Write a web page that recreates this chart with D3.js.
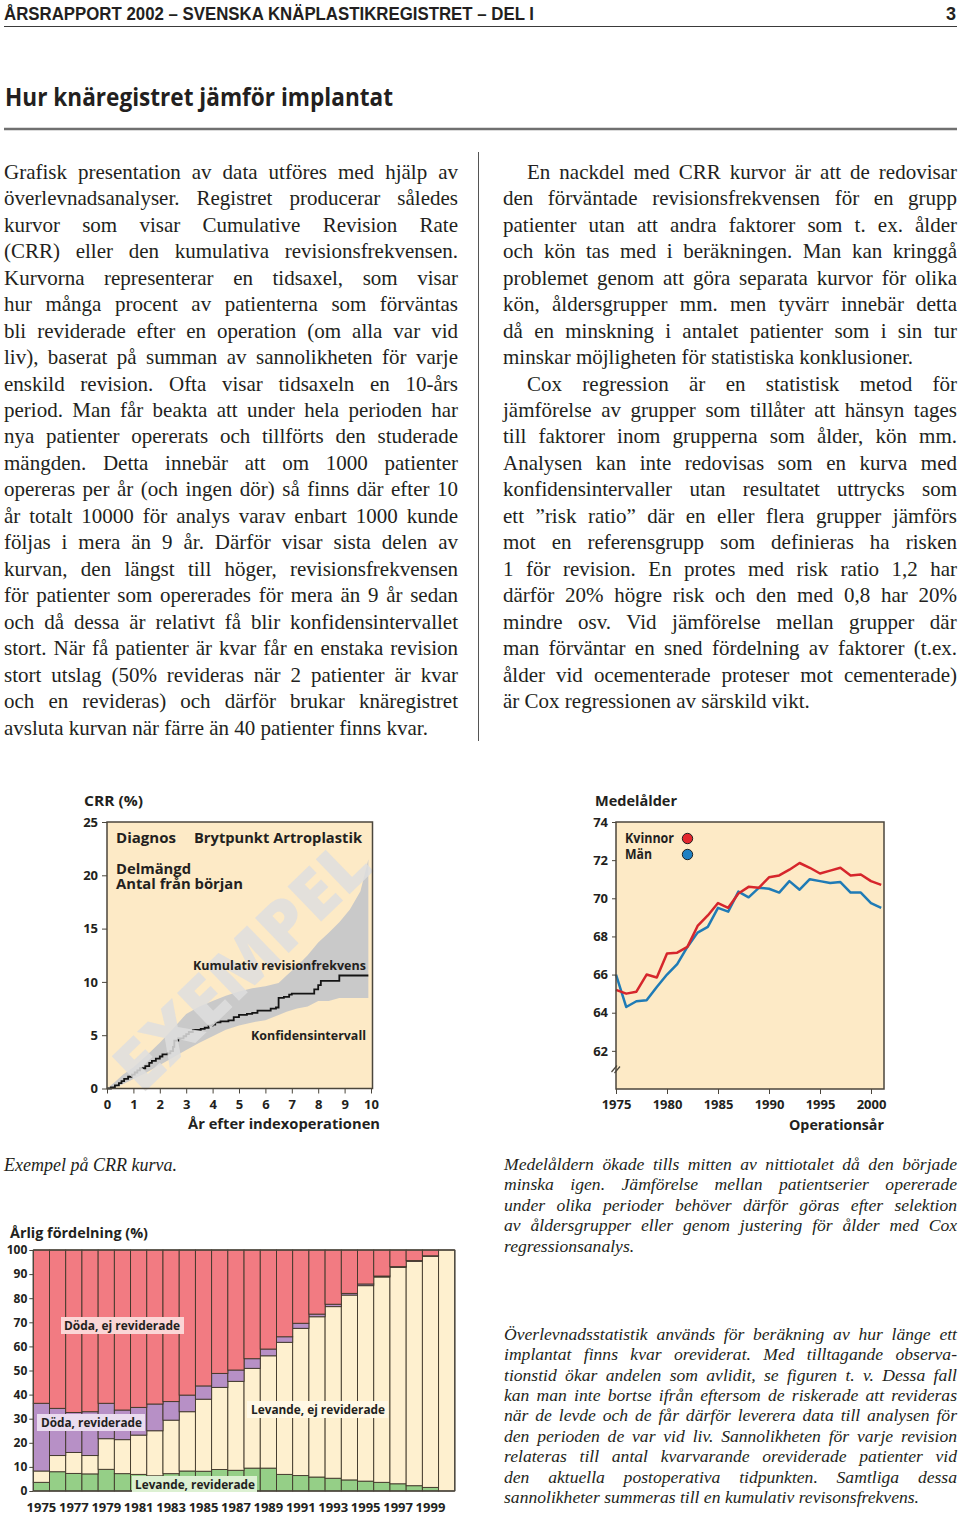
<!DOCTYPE html>
<html><head><meta charset="utf-8">
<script src="https://cdnjs.cloudflare.com/ajax/libs/d3/7.8.5/d3.min.js"></script>
<style>
html,body{margin:0;padding:0;background:#fff;}
#page{position:relative;width:960px;height:1516px;overflow:hidden;background:#fff;}
#svg{position:absolute;left:0;top:0;}
.ln{position:absolute;white-space:nowrap;font-family:"Liberation Serif","Times New Roman",serif;color:#231f20;}
</style>
</head><body><div id="page"><svg id="svg" width="960" height="1516"></svg></div>
<script>
// ---------------- DATA ----------------
// CRR example curve (years after index operation, CRR %)
const crrT = [0,0.15,0.3,0.45,0.55,0.65,0.8,0.95,1.05,1.15,1.25,1.45,1.6,1.7,1.85,2.0,2.1,2.3,2.4,2.5,2.55,2.7,2.9,3.0,3.1,3.25,3.55,3.7,3.85,4.0,4.1,4.3,4.6,4.8,5.0,5.3,5.5,5.7,6.0,6.2,6.4,6.5,6.7,6.9,7.0,7.75,7.85,8.0,8.1,8.75,8.8,9.9];
const crrV = [0,0.1,0.3,0.5,0.7,0.9,1.1,1.3,1.5,1.7,1.9,2.1,2.4,2.6,2.8,3.0,3.2,3.3,3.5,3.9,4.5,4.7,4.9,5.1,5.3,5.5,5.6,5.7,5.9,6.0,6.2,6.3,6.4,6.7,6.9,7.0,7.1,7.3,7.3,7.5,7.6,8.5,8.6,8.8,8.9,8.9,9.3,9.7,10.1,10.1,10.6,10.6];
const ciT  = [0,0.3,0.6,1,1.5,2,2.5,3,3.5,4,4.5,5,5.5,6,6.5,6.8,7.2,7.6,8,8.4,8.8,9.2,9.6,9.9];
const ciUp = [0,0.6,1.3,2.0,3.1,4.3,5.6,7.0,7.7,8.2,8.7,9.1,9.4,9.6,9.9,10.6,11.5,12.5,13.7,14.6,15.6,16.8,18.5,21.5];
const ciLo = [0,0.1,0.4,0.9,1.5,2.2,2.9,3.6,4.3,4.9,5.5,5.9,6.2,6.4,6.9,7.2,7.5,7.7,8.2,8.2,8.5,8.5,8.5,8.5];
const crrYTicks = [0,5,10,15,20,25];
const crrXTicks = [0,1,2,3,4,5,6,7,8,9,10];

// Medelålder
const maYears  = [1975,1976,1977,1978,1979,1980,1981,1982,1983,1984,1985,1986,1987,1988,1989,1990,1991,1992,1993,1994,1995,1996,1997,1998,1999,2000,2001];
const kvinnor  = [65.2,65.0,65.1,66.0,65.85,67.1,67.15,67.45,68.55,69.1,69.75,69.5,70.25,70.6,70.55,71.1,71.2,71.5,71.85,71.6,71.3,71.45,71.6,71.2,71.25,70.9,70.7];
const man      = [66.0,64.3,64.6,64.65,65.35,66.0,66.55,67.45,68.2,68.5,69.5,69.3,70.35,70.05,70.55,70.5,70.3,70.9,70.45,71.0,70.9,70.8,70.85,70.3,70.3,69.75,69.5];
const maYTicks = [62,64,66,68,70,72,74];
const maXTicks = [1975,1980,1985,1990,1995,2000];

// Årlig fördelning (%)
const afYears  = [1975,1976,1977,1978,1979,1980,1981,1982,1983,1984,1985,1986,1987,1988,1989,1990,1991,1992,1993,1994,1995,1996,1997,1998,1999,2000];
const levandeRev   = [3.6,8.0,7.3,7.1,9.0,7.2,6.9,6.3,7.2,8.3,8.2,8.9,8.6,9.5,9.5,6.9,6.4,5.8,5.3,4.6,4.1,3.6,3.0,2.2,1.5,0];
const levandeEjRev = [4.7,6.7,8.7,7.6,12.7,14.1,16.3,18.7,22.2,24.6,29.9,34.1,36.9,41.4,46.6,54.8,61.1,66.5,71.2,76.7,81.1,85.2,89.8,93.1,95.9,100];
const dodaRev      = [28.1,19.6,16.6,18.2,14.7,12.3,11.5,11.1,7.7,6.9,5.5,5.8,4.7,4.0,2.8,2.3,2.1,1.1,1.0,0.7,0.7,0.4,0.3,0.3,0.2,0];
const dodaEjRev    = [63.6,65.7,67.4,67.1,63.6,66.4,65.3,63.9,62.9,60.2,56.4,51.2,49.8,45.1,41.1,36.0,30.4,26.6,22.5,18.0,14.1,10.8,6.9,4.4,2.4,0];
const afYTicks = [0,10,20,30,40,50,60,70,80,90,100];
const afXLabels = [1975,1977,1979,1981,1983,1985,1987,1989,1991,1993,1995,1997,1999];

// ---------------- TEXTS ----------------
const headerText = "ÅRSRAPPORT 2002 – SVENSKA KNÄPLASTIKREGISTRET – DEL I";
const titleText = "Hur knäregistret jämför implantat";
const leftLines = [
"Grafisk presentation av data utföres med hjälp av",
"överlevnadsanalyser. Registret producerar således",
"kurvor som visar Cumulative Revision Rate",
"(CRR) eller den kumulativa revisionsfrekvensen.",
"Kurvorna representerar en tidsaxel, som visar",
"hur många procent av patienterna som förväntas",
"bli reviderade efter en operation (om alla var vid",
"liv), baserat på summan av sannolikheten för varje",
"enskild revision. Ofta visar tidsaxeln en 10-års",
"period. Man får beakta att under hela perioden har",
"nya patienter opererats och tillförts den studerade",
"mängden. Detta innebär att om 1000 patienter",
"opereras per år (och ingen dör) så finns där efter 10",
"år totalt 10000 för analys varav enbart 1000 kunde",
"följas i mera än 9 år. Därför visar sista delen av",
"kurvan, den längst till höger, revisionsfrekvensen",
"för patienter som opererades för mera än 9 år sedan",
"och då dessa är relativt få blir konfidensintervallet",
"stort. När få patienter är kvar får en enstaka revision",
"stort utslag (50% revideras när 2 patienter är kvar",
"och en revideras) och därför brukar knäregistret",
"avsluta kurvan när färre än 40 patienter finns kvar."];
const rightLines = [
"En nackdel med CRR kurvor är att de redovisar",
"den förväntade revisionsfrekvensen för en grupp",
"patienter utan att andra faktorer som t. ex. ålder",
"och kön tas med i beräkningen. Man kan kringgå",
"problemet genom att göra separata kurvor för olika",
"kön, åldersgrupper mm. men tyvärr innebär detta",
"då en minskning i antalet patienter som i sin tur",
"minskar möjligheten för statistiska konklusioner.",
"Cox regression är en statistisk metod för",
"jämförelse av grupper som tillåter att hänsyn tages",
"till faktorer inom grupperna som ålder, kön mm.",
"Analysen kan inte redovisas som en kurva med",
"konfidensintervaller utan resultatet uttrycks som",
"ett ”risk ratio” där en eller flera grupper jämförs",
"mot en referensgrupp som definieras ha risken",
"1 för revision. En protes med risk ratio 1,2 har",
"därför 20% högre risk och den med 0,8 har 20%",
"mindre osv. Vid jämförelse mellan grupper där",
"man förväntar en sned fördelning av faktorer (t.ex.",
"ålder vid ocementerade proteser mot cementerade)",
"är Cox regressionen av särskild vikt."];
const capMid = [
"Medelåldern ökade tills mitten av nittiotalet då den började",
"minska igen. Jämförelse mellan patientserier opererade",
"under olika perioder behöver därför göras efter selektion",
"av åldersgrupper eller genom justering för ålder med Cox",
"regressionsanalys."];
const capBottom = [
"Överlevnadsstatistik används för beräkning av hur länge ett",
"implantat finns kvar oreviderat. Med tilltagande observa-",
"tionstid ökar andelen som avlidit, se figuren t. v. Dessa fall",
"kan man inte bortse ifrån eftersom de riskerade att revideras",
"när de levde och de får därför leverera data till analysen för",
"den perioden de var vid liv. Sannolikheten för varje revision",
"relateras till antal kvarvarande oreviderade patienter vid",
"den aktuella postoperativa tidpunkten. Samtliga dessa",
"sannolikheter summeras till en kumulativ revisonsfrekvens."];

// ---------------- DRAW ----------------
const svg = d3.select('#svg');
const SANS = '"Open Sans","Noto Sans",sans-serif';
const INK = '#231f20';
const FRAME = '#4b463c';
const PEACH = '#fdeac6';

function label(x, y, txt, o = {}) {
  const t = svg.append('text').attr('x', x).attr('y', y)
    .attr('font-family', o.family || SANS).attr('font-weight', o.weight || 700)
    .attr('font-size', o.size || 14).attr('fill', o.fill || INK)
    .attr('text-anchor', o.anchor || 'start').text(txt);
  if (o.len) t.attr('textLength', o.len).attr('lengthAdjust', 'spacingAndGlyphs');
  return t;
}

// header & title
label(4, 20, headerText, {family: '"Liberation Sans Narrow","Liberation Sans",sans-serif', size: 18, len: 530});
label(956, 20, "3", {family: '"Liberation Sans Narrow","Liberation Sans",sans-serif', size: 18, anchor: 'end'});
svg.append('line').attr('x1', 4).attr('x2', 957).attr('y1', 26.5).attr('y2', 26.5).attr('stroke', '#3a3a3a').attr('stroke-width', 1.2);
label(5, 106, titleText, {size: 25, len: 388});
svg.append('line').attr('x1', 4).attr('x2', 957).attr('y1', 129).attr('y2', 129).attr('stroke', '#707070').attr('stroke-width', 2.5);
svg.append('line').attr('x1', 478.5).attr('x2', 478.5).attr('y1', 152).attr('y2', 741).attr('stroke', '#555').attr('stroke-width', 1);

function styleAxis(g, size) {
  g.select('.domain').remove();
  g.selectAll('.tick line').attr('stroke', FRAME).attr('stroke-width', 1);
  g.selectAll('.tick text').attr('font-family', SANS).attr('font-weight', 700)
    .attr('font-size', size).attr('fill', INK);
}

// ---- CRR chart ----
(function(){
  const xC = d3.scaleLinear().domain([0, 10]).range([107, 371]);
  const yC = d3.scaleLinear().domain([0, 25]).range([1088.5, 822]);
  svg.append('rect').attr('x', 107).attr('y', 822).attr('width', 265.5).attr('height', 266.5).attr('fill', PEACH);
  const band = d3.area().x(d => xC(d[0])).y0(d => yC(d[2])).y1(d => yC(d[1]));
  svg.append('path').datum(d3.zip(ciT, ciUp, ciLo)).attr('d', band).attr('fill', '#c9c9c9');
  const line = d3.line().x(d => xC(d[0])).y(d => yC(d[1])).curve(d3.curveStepAfter);
  svg.append('path').datum(d3.zip(crrT, crrV)).attr('d', line).attr('fill', 'none').attr('stroke', '#141414').attr('stroke-width', 1.8);
  svg.append('text').attr('transform', 'translate(240,963) rotate(-44)')
    .attr('text-anchor', 'middle').attr('dominant-baseline', 'central')
    .attr('font-family', SANS).attr('font-weight', 800).attr('font-size', 68)
    .attr('textLength', 325).attr('lengthAdjust', 'spacingAndGlyphs')
    .attr('fill', '#dedede').attr('fill-opacity', 0.85).text('EXEMPEL');
  svg.append('rect').attr('x', 107).attr('y', 822).attr('width', 265.5).attr('height', 266.5)
    .attr('fill', 'none').attr('stroke', FRAME).attr('stroke-width', 1.5);
  const gy = svg.append('g').attr('transform', 'translate(107,0)')
    .call(d3.axisLeft(yC).tickValues(crrYTicks).tickSize(5).tickPadding(4));
  styleAxis(gy, 13);
  const gx = svg.append('g').attr('transform', 'translate(0,1088.5)')
    .call(d3.axisBottom(xC).tickValues(crrXTicks).tickSize(5).tickPadding(6));
  styleAxis(gx, 13);
  label(84, 805.5, 'CRR (%)', {size: 15, len: 59});
  label(116, 843, 'Diagnos', {size: 15, len: 60});
  label(194, 843, 'Brytpunkt Artroplastik', {size: 15, len: 168});
  label(116, 873.5, 'Delmängd', {size: 14.5, len: 75});
  label(116, 889, 'Antal från början', {size: 14.5, len: 127});
  label(366, 970, 'Kumulativ revisionfrekvens', {size: 13, anchor: 'end', len: 173});
  label(366, 1039.5, 'Konfidensintervall', {size: 13, anchor: 'end', len: 115});
  label(380, 1129, 'År efter indexoperationen', {size: 15, anchor: 'end', len: 192});
})();

// ---- Medelålder chart ----
(function(){
  const xM = d3.scaleLinear().domain([1975, 2000]).range([616, 871]);
  const yM = d3.scaleLinear().domain([60, 74]).range([1089, 822]);
  svg.append('rect').attr('x', 616).attr('y', 822).attr('width', 268).attr('height', 267).attr('fill', PEACH);
  const ln = d3.line().x(d => xM(d[0])).y(d => yM(d[1]));
  svg.append('path').datum(d3.zip(maYears, man)).attr('d', ln).attr('fill', 'none').attr('stroke', '#1f7bb6').attr('stroke-width', 2.5).attr('stroke-linejoin', 'round');
  svg.append('path').datum(d3.zip(maYears, kvinnor)).attr('d', ln).attr('fill', 'none').attr('stroke', '#d6262c').attr('stroke-width', 2.5).attr('stroke-linejoin', 'round');
  svg.append('rect').attr('x', 616).attr('y', 822).attr('width', 268).attr('height', 267)
    .attr('fill', 'none').attr('stroke', FRAME).attr('stroke-width', 1.5);
  const gy = svg.append('g').attr('transform', 'translate(616,0)')
    .call(d3.axisLeft(yM).tickValues(maYTicks).tickSize(4).tickPadding(4));
  styleAxis(gy, 13);
  const gx = svg.append('g').attr('transform', 'translate(0,1089)')
    .call(d3.axisBottom(xM).tickValues(maXTicks).tickFormat(d3.format('d')).tickSize(5).tickPadding(6));
  styleAxis(gx, 13);
  // axis break marks
  svg.append('line').attr('x1', 611.5).attr('y1', 1072).attr('x2', 617).attr('y2', 1065.5).attr('stroke', FRAME).attr('stroke-width', 1.2);
  svg.append('line').attr('x1', 614.5).attr('y1', 1073).attr('x2', 620).attr('y2', 1066.5).attr('stroke', FRAME).attr('stroke-width', 1.2);
  label(595, 805.5, 'Medelålder', {size: 15, len: 82});
  label(884, 1130, 'Operationsår', {size: 15, anchor: 'end', len: 95});
  label(625, 843, 'Kvinnor', {size: 13.5, len: 49});
  label(625, 859, 'Män', {size: 13.5, len: 27});
  svg.append('circle').attr('cx', 687.5).attr('cy', 838.5).attr('r', 5.2).attr('fill', '#e3262d').attr('stroke', '#222').attr('stroke-width', 1);
  svg.append('circle').attr('cx', 687.5).attr('cy', 854.5).attr('r', 5.2).attr('fill', '#1f80c2').attr('stroke', '#222').attr('stroke-width', 1);
})();

// ---- Årlig fördelning stacked chart ----
(function(){
  const keys = ['levandeRev', 'levandeEjRev', 'dodaRev', 'dodaEjRev'];
  const colors = {levandeRev: '#95cf87', levandeEjRev: '#fef0cf', dodaRev: '#b790c6', dodaEjRev: '#f27b82'};
  const rows = afYears.map((y, i) => ({year: y, levandeRev: levandeRev[i], levandeEjRev: levandeEjRev[i], dodaRev: dodaRev[i], dodaEjRev: dodaEjRev[i]}));
  const series = d3.stack().keys(keys)(rows);
  const xS = d3.scaleBand().domain(afYears).range([33.3, 454.8]).padding(0);
  const yS = d3.scaleLinear().domain([0, 100]).range([1491, 1250]);
  svg.append('g').selectAll('g').data(series).join('g').attr('fill', s => colors[s.key])
    .selectAll('rect').data(s => s).join('rect')
    .attr('x', d => xS(d.data.year)).attr('width', xS.bandwidth())
    .attr('y', d => yS(d[1])).attr('height', d => yS(d[0]) - yS(d[1]))
    .attr('stroke', '#3e3628').attr('stroke-width', 0.9);
  svg.append('line').attr('x1', 33.3).attr('x2', 33.3).attr('y1', 1250).attr('y2', 1491).attr('stroke', FRAME).attr('stroke-width', 1.3);
  svg.append('line').attr('x1', 33.3).attr('x2', 454.8).attr('y1', 1491).attr('y2', 1491).attr('stroke', FRAME).attr('stroke-width', 1.3);
  svg.append('line').attr('x1', 33.3).attr('x2', 454.8).attr('y1', 1250).attr('y2', 1250).attr('stroke', FRAME).attr('stroke-width', 1.3);
  svg.append('line').attr('x1', 454.8).attr('x2', 454.8).attr('y1', 1250).attr('y2', 1491).attr('stroke', FRAME).attr('stroke-width', 1.3);
  const gy = svg.append('g').attr('transform', 'translate(33.3,0)')
    .call(d3.axisLeft(yS).tickValues(afYTicks).tickSize(4).tickPadding(2));
  styleAxis(gy, 12);
  const gx = svg.append('g').attr('transform', 'translate(0,1491)')
    .call(d3.axisBottom(xS).tickValues(afXLabels).tickSize(0).tickPadding(12));
  styleAxis(gx, 13);
  label(10, 1237.5, 'Årlig fördelning (%)', {size: 15, len: 138});
  function boxLabel(x, y, w, h, bg, tx, ty, txt, len) {
    svg.append('rect').attr('x', x).attr('y', y).attr('width', w).attr('height', h).attr('fill', bg);
    label(tx, ty, txt, {size: 13, len: len});
  }
  boxLabel(61, 1317, 123, 17, '#fbd6d6', 64, 1330, 'Döda, ej reviderade', 116);
  boxLabel(37, 1414, 108, 17, '#eadcef', 41, 1427, 'Döda, reviderade', 101);
  boxLabel(247, 1401, 141, 17, '#fff8e6', 251, 1413.5, 'Levande, ej reviderade', 134);
  boxLabel(132, 1476, 125, 16, '#dcf0d2', 135, 1488.5, 'Levande, reviderade', 120);
})();

// ---------------- BODY TEXT (HTML, justified per line) ----------------
const page = document.getElementById('page');
const cv = document.createElement('canvas').getContext('2d');
function textBlock(lines, o) {
  const fam = '"Liberation Serif"';
  cv.font = (o.italic ? 'italic ' : '') + o.size + 'px ' + fam;
  const top0 = o.baseline - (o.lh - 1.107 * o.size) / 2 - 0.891 * o.size;
  lines.forEach((s, i) => {
    const d = document.createElement('div');
    d.className = 'ln';
    const ind = (o.indents || []).includes(i) ? o.indent : 0;
    d.style.left = (o.left + ind) + 'px';
    d.style.top = (top0 + i * o.lh) + 'px';
    d.style.fontSize = o.size + 'px';
    d.style.lineHeight = o.lh + 'px';
    if (o.italic) d.style.fontStyle = 'italic';
    const w = cv.measureText(s).width;
    const avail = o.width - ind;
    const spaces = (s.match(/ /g) || []).length;
    const isLast = (o.lasts || []).includes(i);
    if (!isLast || w > avail) {
      if (spaces > 0) d.style.wordSpacing = ((avail - w) / spaces) + 'px';
      else d.style.letterSpacing = ((avail - w) / s.length) + 'px';
    }
    d.textContent = s;
    page.appendChild(d);
  });
}
textBlock(leftLines, {left: 4, width: 454, size: 21, lh: 26.48, baseline: 179, lasts: [21]});
textBlock(rightLines, {left: 503, width: 454, size: 21, lh: 26.48, baseline: 179, indents: [0, 8], indent: 24, lasts: [7, 20]});
textBlock(["Exempel på CRR kurva."], {left: 4, width: 200, size: 18, lh: 20.5, baseline: 1171, italic: true, lasts: [0]});
textBlock(capMid, {left: 504, width: 453, size: 17.6, lh: 20.5, baseline: 1170, italic: true, lasts: [4]});
textBlock(capBottom, {left: 504, width: 453, size: 17.6, lh: 20.4, baseline: 1340, italic: true, lasts: [8]});
</script>
</body></html>
